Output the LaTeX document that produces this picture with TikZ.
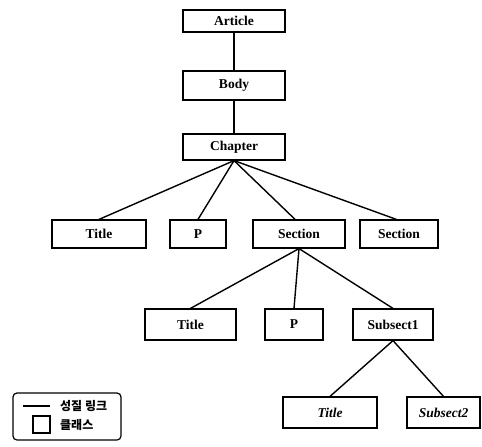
\documentclass[tikz,border=0pt]{standalone}
\usepackage{fontspec}
\setmainfont{Liberation Serif}
\newfontfamily\krfont{Noto Sans CJK KR}
\begin{document}
\begin{tikzpicture}[x=1pt,y=-1pt,
  cls/.style={draw,line width=1.2pt,inner sep=0pt,font=\fontsize{13.5}{15}\selectfont\bfseries},
  icls/.style={cls,font=\fontsize{13.5}{15}\selectfont\bfseries\itshape},
  link/.style={line width=1.4pt}]
\useasboundingbox (0,0) rectangle (482,447);
\node[cls,minimum width=102pt,minimum height=22pt] (article) at (234,21) {Article};
\node[cls,minimum width=102pt,minimum height=29pt] (body) at (234,85.5) {Body};
\node[cls,minimum width=102pt,minimum height=26pt] (chapter) at (234,147) {Chapter};
\node[cls,minimum width=94pt,minimum height=28pt] (title1) at (99,234) {Title};
\node[cls,minimum width=56pt,minimum height=28pt] (p1) at (198,234) {P};
\node[cls,minimum width=92pt,minimum height=28pt] (sec1) at (299,234) {Section};
\node[cls,minimum width=78pt,minimum height=28pt] (sec2) at (399,234) {Section};
\node[cls,minimum width=91pt,minimum height=31pt] (title2) at (190.5,324.5) {Title};
\node[cls,minimum width=58pt,minimum height=31pt] (p2) at (294,324.5) {P};
\node[cls,minimum width=80pt,minimum height=31pt] (sub1) at (393,324.5) {Subsect1};
\node[icls,minimum width=94pt,minimum height=31pt] (title3) at (330,412.5) {Title};
\node[icls,minimum width=73pt,minimum height=31pt] (sub2) at (443.5,412.5) {Subsect2};
\draw[link] (article.south) -- (body.north);
\draw[link] (body.south) -- (chapter.north);
\draw[link] (chapter.south) -- (title1.north);
\draw[link] (chapter.south) -- (p1.north);
\draw[link] (chapter.south) -- (sec1.105);
\draw[link] (chapter.south) -- (sec2.100);
\draw[link] (sec1.south) -- (title2.north);
\draw[link] (sec1.south) -- (p2.north);
\draw[link] (sec1.south) -- (sub1.north);
\draw[link] (sub1.south) -- (title3.north);
\draw[link] (sub1.south) -- (sub2.north);
% legend
\node[draw,line width=1.2pt,rounded corners=4pt,minimum width=108pt,minimum height=47pt,inner sep=0pt] (legend) at (67,416.5) {};
\coordinate (la) at (23,406);
\coordinate (lb) at (50,406);
\draw[line width=1.2pt] (la) -- (lb);
\node[draw,line width=1.2pt,minimum width=17pt,minimum height=17pt,inner sep=0pt] (lsq) at (41.5,424.5) {};
\node[anchor=west,inner sep=0pt,font=\krfont\bfseries\fontsize{12}{14}\selectfont] (lt1) at (60,406) {성질 링크};
\node[anchor=west,inner sep=0pt,font=\krfont\bfseries\fontsize{12}{14}\selectfont] (lt2) at (60,424.5) {클래스};
\end{tikzpicture}
\end{document}
